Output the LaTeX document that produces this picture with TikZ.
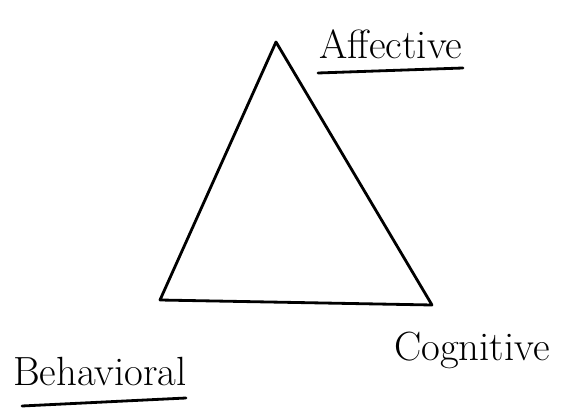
\documentclass[tikz,border=0pt]{standalone}
\usepackage{tikz}
\usetikzlibrary{positioning}

\begin{document}
\begin{tikzpicture}[
                x=0.25mm,
                y=-0.25mm,
                side/.style = {
                    line width = 2pt,
                    line join = round,
                    line cap = round
                },
                word/.style = {
                    font = \fontsize{29}{33}\selectfont,
                    inner sep = 1pt
                },
                under/.style = {
                    line width = 2pt,
                    line cap = round
                }
            ]
            \useasboundingbox (0,0) rectangle (563,412);
            % corners of the triangle
            \coordinate (top) at (276,42);
            \coordinate (left) at (160,300);
            \coordinate (right) at (432,305);
            % 
            \node[word] (aff) at (391,44) {Affective};
            \node[word] (beh) at (100,372) {Behavioral};
            \node[word] (cog) at (472,350) {Cognitive};
            % 
            \coordinate (affa) at (318,73);
            \coordinate (affb) at (463,68);
            \coordinate (beha) at (22,406);
            \coordinate (behb) at (186,398);
            % 
            \draw[side] (top) -- (left) -- (right) -- cycle;
            % 
            \draw[under] (affa) -- (affb);
            \draw[under] (beha) -- (behb);
            % 
        \end{tikzpicture}
\end{document}
